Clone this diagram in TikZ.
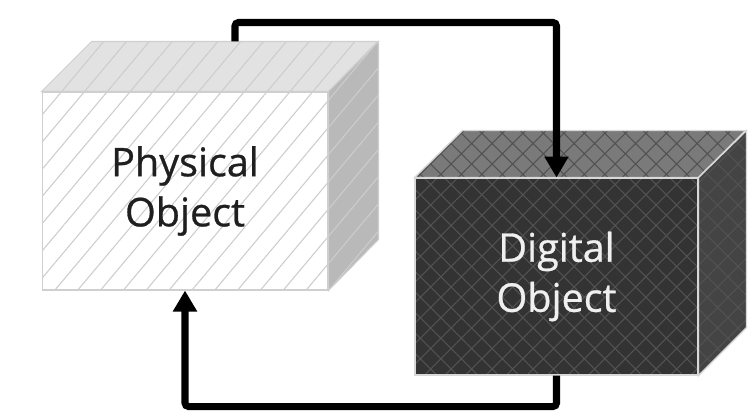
\documentclass[tikz,border=0pt]{standalone}
\usepackage{fontspec}
\setmainfont{Open Sans}
\newfontfamily\boxfont{Open Sans}[FakeBold=0.7]
\usetikzlibrary{patterns.meta,arrows.meta,calc}

\definecolor{physedge}{HTML}{CFCFCF}
\definecolor{physline}{HTML}{CDCDCD}
\definecolor{phystop}{HTML}{E2E2E2}
\definecolor{physside}{HTML}{B9B9B9}
\definecolor{digfront}{HTML}{333333}
\definecolor{digtop}{HTML}{7A7A7A}
\definecolor{digside}{HTML}{444444}
\definecolor{digline}{HTML}{525252}
\definecolor{digedge}{HTML}{D8D8D8}

\begin{document}
\begin{tikzpicture}[x=0.02cm, y=-0.02cm,
        phys face/.style={draw=physedge, line width=0.6pt, pattern color=physline,
            pattern={Lines[angle=50, distance=0.35cm, line width=0.6pt]}},
        dig face/.style={draw=digedge, line width=0.8pt, pattern color=digline,
            pattern={Hatch[angle=45, distance=0.29cm, line width=0.6pt]}},
        phys box/.style={rectangle, phys face, preaction={fill=white}, minimum width=5.72cm, minimum height=3.96cm,
            align=center, text=black!88, font=\boxfont\fontsize{22.5}{28.5}\selectfont},
        dig box/.style={rectangle, dig face, preaction={fill=digfront}, minimum width=5.66cm, minimum height=3.94cm,
            align=center, text=white!94!black, font=\boxfont\fontsize{22.5}{28.5}\selectfont},
        flow/.style={line width=4pt, rounded corners=2pt, -{Triangle[width=0.46cm, length=0.42cm]}}
    ]
        \useasboundingbox (0,0) rectangle (750,410);

        % Physical Object
        \node[phys box] (phys) at (185,191) {Physical\\Object};
        \path[phys face, preaction={fill=phystop}] (phys.north west) -- ++(50,-50) -- ++(286,0) -- (phys.north east) -- cycle;
        \path[phys face, preaction={fill=physside}] (phys.north east) -- ++(50,-50) -- ++(0,198) -- (phys.south east) -- cycle;
        \coordinate (phys back) at ($(phys.north)+(50,-50)$);

        % Digital Object
        \node[dig box] (dig) at (556.5,276.5) {Digital\\Object};
        \path[dig face, preaction={fill=digtop}] (dig.north west) -- ++(48,-47) -- ++(283,0) -- (dig.north east) -- cycle;
        \path[dig face, preaction={fill=digside}] (dig.north east) -- ++(48,-47) -- ++(0,197) -- (dig.south east) -- cycle;

        % Arrows
        \draw[flow] (phys back) -- ++(0,-19) -| (dig.north);
        \draw[flow] (dig.south) -- ++(0,31) -| (phys.south);

    \end{tikzpicture}
\end{document}
